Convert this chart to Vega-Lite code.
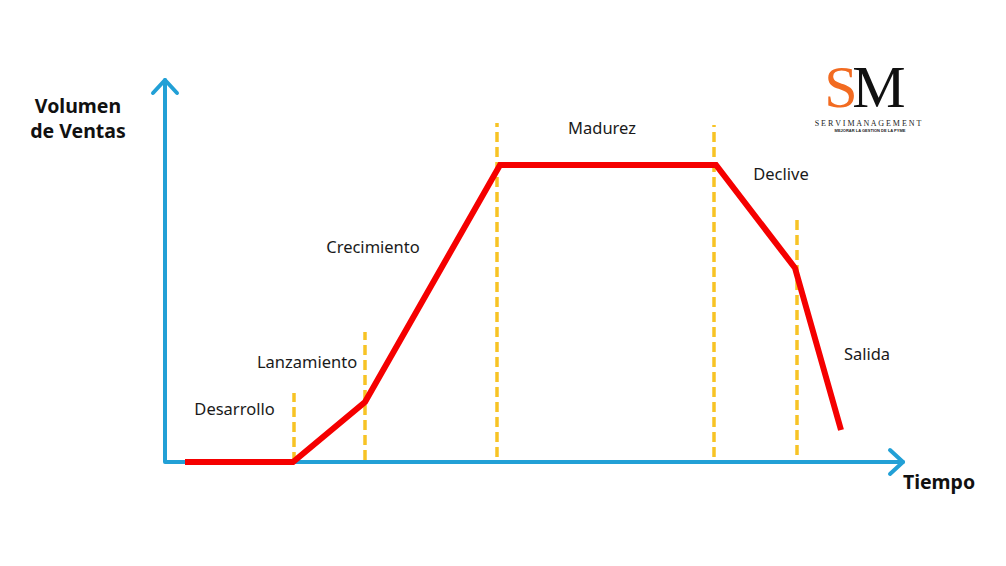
{
  "$schema": "https://vega.github.io/schema/vega-lite/v6.json",
  "description": "Ciclo de vida del producto: volumen de ventas en el tiempo.",
  "width": 1006,
  "height": 566,
  "autosize": {"type": "fit", "contains": "padding"},
  "padding": 0,
  "background": "white",
  "config": {"view": {"stroke": null}},
  "datasets": {
    "ventas": [
      {"t": 2.0, "v": 0, "o": 1},
      {"t": 12.8, "v": 0, "o": 2},
      {"t": 20.0, "v": 6.0, "o": 3},
      {"t": 33.5, "v": 29.7, "o": 4},
      {"t": 55.1, "v": 29.7, "o": 5},
      {"t": 63.0, "v": 19.4, "o": 6},
      {"t": 67.6, "v": 3.2, "o": 7}
    ],
    "fases": [
      {"t": 12.9, "v0": 0.0, "v1": 6.9},
      {"t": 20.0, "v0": 0.2, "v1": 13.0},
      {"t": 33.2, "v0": 0.5, "v1": 33.9},
      {"t": 54.9, "v0": 0.5, "v1": 33.7},
      {"t": 63.2, "v0": 0.7, "v1": 24.4}
    ],
    "ejes": [
      {"g": "ejes", "t": 0, "v": 38.2, "o": 1},
      {"g": "ejes", "t": 0, "v": 0, "o": 2},
      {"g": "ejes", "t": 73.8, "v": 0, "o": 3},
      {"g": "flecha_y", "t": -1.2, "v": 36.9, "o": 1},
      {"g": "flecha_y", "t": 0, "v": 38.2, "o": 2},
      {"g": "flecha_y", "t": 1.2, "v": 36.9, "o": 3},
      {"g": "flecha_x", "t": 72.5, "v": 1.2, "o": 1},
      {"g": "flecha_x", "t": 73.8, "v": 0, "o": 2},
      {"g": "flecha_x", "t": 72.5, "v": -1.2, "o": 3}
    ],
    "etiquetas": [
      {"t": 6.95, "v": 5.2, "txt": "Desarrollo"},
      {"t": 14.2, "v": 9.9, "txt": "Lanzamiento"},
      {"t": 20.8, "v": 21.4, "txt": "Crecimiento"},
      {"t": 43.7, "v": 33.3, "txt": "Madurez"},
      {"t": 61.6, "v": 28.7, "txt": "Declive"},
      {"t": 70.2, "v": 10.7, "txt": "Salida"}
    ],
    "titulos": [
      {"t": -8.7, "v": 35.5, "txt": "Volumen"},
      {"t": -8.7, "v": 33.0, "txt": "de Ventas"},
      {"t": 77.4, "v": -2.1, "txt": "Tiempo"}
    ]
  },
  "encoding": {
    "x": {"field": "t", "type": "quantitative", "scale": {"domain": [-16.5, 84.1], "nice": false, "zero": false}, "axis": null},
    "y": {"field": "v", "type": "quantitative", "scale": {"domain": [-10.4, 46.2], "nice": false, "zero": false}, "axis": null}
  },
  "layer": [
    {
      "data": {"name": "ejes"},
      "mark": {"type": "line", "color": "#22a0d6", "strokeWidth": 4, "strokeJoin": "round", "strokeCap": "round"},
      "encoding": {
        "detail": {"field": "g", "type": "nominal"},
        "order": {"field": "o", "type": "quantitative"}
      }
    },
    {
      "data": {"name": "fases"},
      "mark": {"type": "rule", "color": "#f7c325", "strokeWidth": 3.5, "strokeDash": [10, 5]},
      "encoding": {
        "y": {"field": "v0", "type": "quantitative"},
        "y2": {"field": "v1"}
      }
    },
    {
      "data": {"name": "ventas"},
      "mark": {"type": "line", "color": "#f50000", "strokeWidth": 6, "strokeJoin": "miter", "strokeCap": "butt"},
      "encoding": {"order": {"field": "o", "type": "quantitative"}}
    },
    {
      "data": {"name": "etiquetas"},
      "mark": {"type": "text", "font": "Noto Sans", "fontSize": 16.5, "color": "#1a1a1a", "align": "center", "baseline": "middle"},
      "encoding": {"text": {"field": "txt"}}
    },
    {
      "data": {"name": "titulos"},
      "mark": {"type": "text", "font": "Noto Sans", "fontSize": 19.5, "fontWeight": "bold", "color": "#111111", "align": "center", "baseline": "middle"},
      "encoding": {"text": {"field": "txt"}}
    },
    {
      "data": {"values": [
        {"t": 67.6, "v": 35.5, "txt": "S", "c": "S"},
        {"t": 71.4, "v": 35.5, "txt": "M", "c": "M"}
      ]},
      "mark": {"type": "text", "font": "Liberation Serif", "fontSize": 60, "align": "center", "baseline": "alphabetic"},
      "encoding": {
        "text": {"field": "txt"},
        "color": {"field": "c", "type": "nominal", "scale": {"domain": ["S", "M"], "range": ["#f26b21", "#111111"]}, "legend": null}
      }
    },
    {
      "data": {"values": [
        {"t": 70.3, "v": 33.8, "txt": "S E R V I M A N A G E M E N T"}
      ]},
      "mark": {"type": "text", "font": "Liberation Serif", "fontSize": 8, "color": "#222222", "align": "center", "baseline": "middle"},
      "encoding": {"text": {"field": "txt"}}
    },
    {
      "data": {"values": [
        {"t": 70.5, "v": 33.1, "txt": "MEJORAR LA GESTION DE LA PYME"}
      ]},
      "mark": {"type": "text", "font": "Liberation Sans", "fontSize": 4, "fontWeight": "bold", "color": "#222222", "align": "center", "baseline": "middle"},
      "encoding": {"text": {"field": "txt"}}
    }
  ]
}
